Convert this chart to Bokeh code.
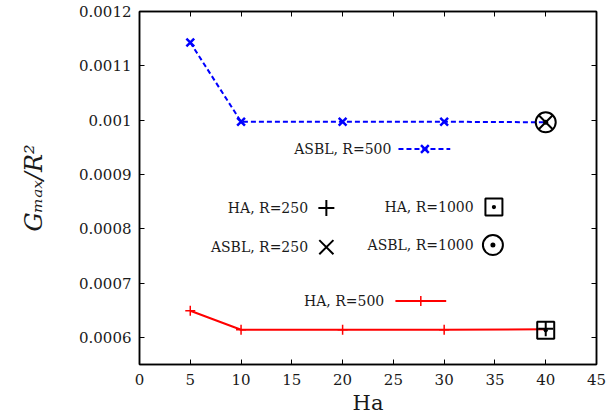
from bokeh.plotting import figure
from bokeh.models import LinearAxis, FixedTicker, Range1d
from bokeh.core.properties import value
from bokeh.embed import file_html
from bokeh.resources import INLINE

# ---- data ----
ha = [5, 10, 20, 30, 40]
asbl_r500 = [0.001143, 0.000997, 0.000997, 0.000997, 0.000996]
ha_r500 = [0.000649, 0.000614, 0.000614, 0.000614, 0.000615]
ha40 = [40]
ha_r250 = [0.000616]
asbl_r250 = [0.000996]
ha_r1000 = [0.000613]
asbl_r1000 = [0.000996]

x_ticks = [0, 5, 10, 15, 20, 25, 30, 35, 40, 45]
y_ticks = [0.0006, 0.0007, 0.0008, 0.0009, 0.001, 0.0011, 0.0012]
y_tick_labels = ["0.0006", "0.0007", "0.0008", "0.0009", "0.001", "0.0011", "0.0012"]

FONT = "DejaVu Serif"

p = figure(width=608, height=419, output_backend="svg", toolbar_location=None,
           x_range=Range1d(0, 45), y_range=Range1d(0.00055, 0.0012),
           min_border_left=139, min_border_right=12, min_border_top=11, min_border_bottom=55,
           x_axis_label="Ha", y_axis_label="Gₘₐₓ/R²")
p.grid.visible = False
p.outline_line_color = "black"
p.outline_line_width = 1.5
p.background_fill_color = "white"
p.border_fill_color = "white"

def style_axis(ax, show_labels):
    ax.major_tick_in = 5
    ax.major_tick_out = 0
    ax.minor_tick_line_color = None
    ax.axis_line_color = "black"
    ax.axis_line_width = 1.5
    ax.major_tick_line_color = "black"
    ax.major_tick_line_width = 1
    ax.major_label_text_font = FONT
    ax.major_label_text_font_size = "15px" if show_labels else "0px"
    ax.major_label_text_color = "#1a1a1a"
    ax.axis_label_text_font = FONT
    ax.axis_label_text_font_style = "normal"
    ax.axis_label_text_color = "#1a1a1a"

p.xaxis.ticker = FixedTicker(ticks=x_ticks)
p.yaxis.ticker = FixedTicker(ticks=y_ticks)
p.yaxis.major_label_overrides = {t: l for t, l in zip(y_ticks, y_tick_labels)}
style_axis(p.xaxis[0], True)
style_axis(p.yaxis[0], True)
p.xaxis.major_label_standoff = 9
p.yaxis.major_label_standoff = 8
p.xaxis.axis_label_text_font_size = "21px"
p.xaxis.axis_label_standoff = 3
p.yaxis.axis_label_text_font_size = "24px"
p.yaxis.axis_label_text_font_style = "italic"
p.yaxis.axis_label_standoff = 28

top = LinearAxis(ticker=FixedTicker(ticks=x_ticks))
style_axis(top, False)
top.major_label_text_alpha = 0
p.add_layout(top, "above")
right = LinearAxis(ticker=FixedTicker(ticks=y_ticks))
style_axis(right, False)
right.major_label_text_alpha = 0
p.add_layout(right, "right")

# ---- data series ----
p.line(ha, asbl_r500, line_color="blue", line_width=2, line_dash="5 3")
p.scatter(ha[:-1], asbl_r500[:-1], marker="x", size=11, line_color="blue", line_width=2.5)
p.line(ha, ha_r500, line_color="red", line_width=2)
p.scatter(ha[:-1], ha_r500[:-1], marker="cross", size=10, line_color="red", line_width=1.5)

p.scatter(ha40, asbl_r1000, marker="circle_dot", size=20, fill_color=None, line_color="black", line_width=2)
p.scatter(ha40, asbl_r250, marker="x", size=19, line_color="black", line_width=2)
p.scatter(ha40, ha_r1000, marker="square_dot", size=17, fill_color=None, line_color="black", line_width=2)
p.scatter(ha40, ha_r250, marker="cross", size=15, line_color="black", line_width=2)

# ---- key (layout positions in data space) ----
def key_text(x, y, s):
    p.text([x], [y], text=[s], text_align="right", text_baseline="middle",
           text_font=value(FONT), text_font_size="14px", text_color="#1a1a1a")

key_text(24.8, 0.000947, "ASBL, R=500")
p.line([25.5, 30.6], [0.000947, 0.000947], line_color="blue", line_width=2, line_dash="5 3")
p.scatter([28.1], [0.000947], marker="x", size=11, line_color="blue", line_width=2.5)

key_text(16.6, 0.000838, "HA, R=250")
p.scatter([18.4], [0.000838], marker="cross", size=16, line_color="black", line_width=2)
key_text(16.6, 0.000766, "ASBL, R=250")
p.scatter([18.4], [0.000766], marker="x", size=20, line_color="black", line_width=2)

key_text(32.9, 0.00084, "HA, R=1000")
p.scatter([34.9], [0.00084], marker="square_dot", size=17, fill_color=None, line_color="black", line_width=2)
key_text(32.9, 0.00077, "ASBL, R=1000")
p.scatter([34.8], [0.00077], marker="circle_dot", size=20, fill_color=None, line_color="black", line_width=2)

key_text(24.1, 0.000667, "HA, R=500")
p.line([25.2, 30.2], [0.000667, 0.000667], line_color="red", line_width=2)
p.scatter([27.7], [0.000667], marker="cross", size=10, line_color="red", line_width=1.5)

open("out.html", "w").write(file_html(p, INLINE))
